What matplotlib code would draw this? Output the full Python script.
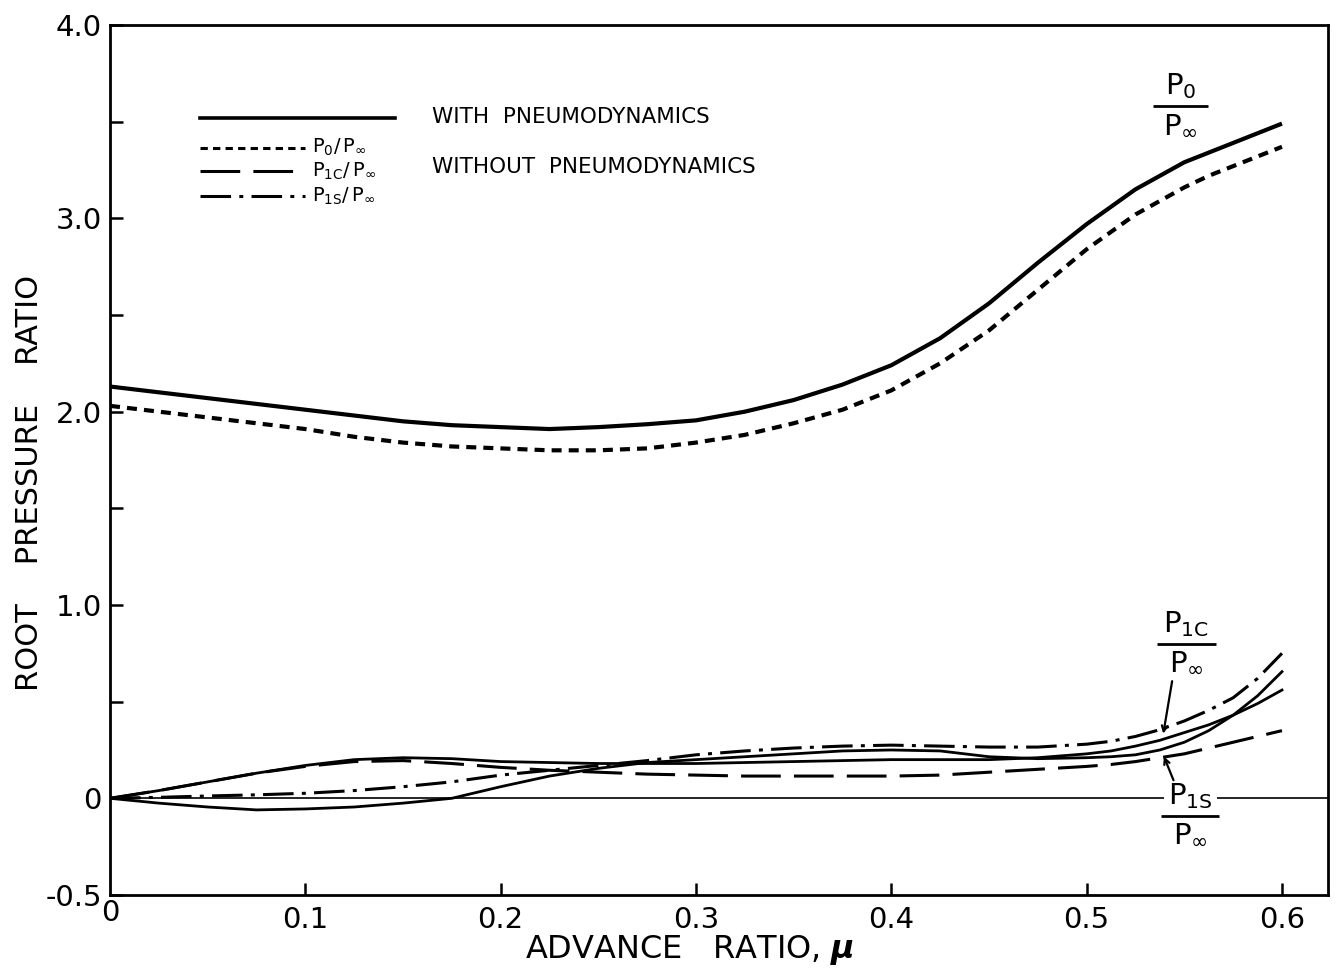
import matplotlib
matplotlib.use("Agg")
import matplotlib.pyplot as plt
from matplotlib.lines import Line2D

plt.rcParams['font.family'] = ['DejaVu Sans']
plt.rcParams['mathtext.fontset'] = 'dejavusans'

# Advance ratio grid (finer near the upper end where the curves bend sharply)
mu = [0.0, 0.025, 0.05, 0.075, 0.1, 0.125, 0.15, 0.175, 0.2, 0.225, 0.25, 0.275,
      0.3, 0.325, 0.35, 0.375, 0.4, 0.425, 0.45, 0.475, 0.5, 0.5125, 0.525, 0.5375,
      0.55, 0.5625, 0.575, 0.5875, 0.6]

# With pneumodynamics
p0_with = [2.13, 2.10, 2.07, 2.04, 2.01, 1.98, 1.95, 1.93, 1.92, 1.91, 1.92, 1.935,
           1.955, 2.00, 2.06, 2.14, 2.24, 2.38, 2.56, 2.77, 2.97, 3.06, 3.15, 3.22,
           3.29, 3.34, 3.39, 3.44, 3.49]
p1c_with = [0.0, 0.04, 0.085, 0.13, 0.17, 0.20, 0.21, 0.205, 0.19, 0.185, 0.18, 0.18,
            0.18, 0.185, 0.19, 0.195, 0.20, 0.20, 0.20, 0.21, 0.23, 0.245, 0.27, 0.30,
            0.34, 0.38, 0.43, 0.49, 0.56]
p1s_with = [0.0, -0.025, -0.045, -0.06, -0.055, -0.045, -0.025, 0.0, 0.06, 0.115, 0.155, 0.185,
            0.20, 0.215, 0.23, 0.245, 0.25, 0.245, 0.215, 0.205, 0.21, 0.215, 0.225, 0.25,
            0.29, 0.35, 0.43, 0.53, 0.655]

# Without pneumodynamics
p0_without = [2.03, 2.00, 1.97, 1.94, 1.91, 1.87, 1.84, 1.82, 1.81, 1.80, 1.80, 1.81,
              1.84, 1.88, 1.94, 2.01, 2.11, 2.25, 2.42, 2.63, 2.84, 2.93, 3.02, 3.09,
              3.16, 3.22, 3.27, 3.32, 3.37]
p1c_without = [0.0, 0.04, 0.085, 0.13, 0.165, 0.19, 0.195, 0.18, 0.16, 0.145, 0.135, 0.125,
               0.12, 0.115, 0.115, 0.115, 0.115, 0.12, 0.135, 0.15, 0.165, 0.175, 0.19, 0.21,
               0.23, 0.26, 0.29, 0.32, 0.35]
p1s_without = [0.0, 0.005, 0.012, 0.018, 0.026, 0.04, 0.06, 0.085, 0.12, 0.145, 0.17, 0.195,
               0.225, 0.245, 0.26, 0.27, 0.275, 0.27, 0.265, 0.265, 0.28, 0.295, 0.32, 0.355,
               0.40, 0.455, 0.52, 0.62, 0.75]

x_ticks = [0.1, 0.2, 0.3, 0.4, 0.5, 0.6]
x_ticklabels = ["0.1", "0.2", "0.3", "0.4", "0.5", "0.6"]
y_ticks = [-0.5, 0.0, 0.5, 1.0, 1.5, 2.0, 2.5, 3.0, 3.5, 4.0]
y_ticklabels = ["-0.5", "0", "", "1.0", "", "2.0", "", "3.0", "", "4.0"]

fig = plt.figure(figsize=(13.4, 9.73), dpi=100)
ax = fig.add_axes([0.0821, 0.0802, 0.9090, 0.8941])
ax.set_xlim(0, 0.6236)
ax.set_ylim(-0.5, 4.0)

short_dash = (2.4, 1.7)
long_dash = (13, 4.3)
dash_dot = (10, 2.7, 1.3, 2.7)

# reference line at zero
ax.axhline(0.0, color='black', lw=1.2, zorder=1)

ax.plot(mu, p0_with, color='black', lw=3.0, solid_capstyle='butt', solid_joinstyle='round')
ax.plot(mu, p0_without, color='black', lw=3.0, dashes=short_dash)
ax.plot(mu, p1c_with, color='black', lw=2.0, solid_joinstyle='round')
ax.plot(mu, p1s_with, color='black', lw=2.0, solid_joinstyle='round')
ax.plot(mu, p1c_without, color='black', lw=2.2, dashes=long_dash)
ax.plot(mu, p1s_without, color='black', lw=2.2, dashes=dash_dot)

# axes styling
for sp in ax.spines.values():
    sp.set_linewidth(2.0)
ax.set_xticks(x_ticks)
ax.set_xticklabels(x_ticklabels)
ax.set_yticks(y_ticks)
ax.set_yticklabels(y_ticklabels)
ax.tick_params(direction='in', length=9, width=1.8, labelsize=21)
ax.tick_params(axis='x', pad=8)
ax.tick_params(axis='y', pad=6)
ax.text(0.0, -0.52, "0", ha='center', va='top', fontsize=21,
        transform=ax.transData)
ax.set_xlabel(r"ADVANCE   RATIO, $\boldsymbol{\mu}$", fontsize=23, va='center')
ax.xaxis.set_label_coords(0.476, -0.063)
ax.set_ylabel("ROOT    PRESSURE    RATIO", fontsize=22, va='center')
ax.yaxis.set_label_coords(-0.066, 0.474)

# key
tr = ax.transAxes
ax.add_line(Line2D([0.074, 0.234], [0.893, 0.893], transform=tr, color='black', lw=2.6))
ax.add_line(Line2D([0.074, 0.160], [0.859, 0.859], transform=tr, color='black', lw=2.2, dashes=short_dash))
ax.add_line(Line2D([0.074, 0.160], [0.832, 0.832], transform=tr, color='black', lw=2.2, dashes=long_dash))
ax.add_line(Line2D([0.074, 0.160], [0.803, 0.803], transform=tr, color='black', lw=2.2, dashes=dash_dot))
ax.text(0.264, 0.894, "WITH  PNEUMODYNAMICS", transform=tr, fontsize=15.5, va='center')
ax.text(0.264, 0.837, "WITHOUT  PNEUMODYNAMICS", transform=tr, fontsize=15.5, va='center')
ax.text(0.166, 0.859, r"$\mathregular{P_0/\,P_\infty}$", transform=tr, fontsize=14, va='center')
ax.text(0.166, 0.832, r"$\mathregular{P_{1C}/\,P_\infty}$", transform=tr, fontsize=14, va='center')
ax.text(0.166, 0.803, r"$\mathregular{P_{1S}/\,P_\infty}$", transform=tr, fontsize=14, va='center')


def fraction(x, y, top, half_width=0.014, fs=21, gap=0.025, bg=False):
    bbox = dict(facecolor='white', edgecolor='none', pad=3) if bg else None
    ax.text(x, y + gap, top, va='bottom', ha='center', fontsize=fs, bbox=bbox, zorder=2)
    ax.text(x, y - gap, r"$\mathregular{P_\infty}$", va='top', ha='center', fontsize=fs)
    ax.plot([x - half_width, x + half_width], [y, y], color='black', lw=2.0,
            solid_capstyle='butt', zorder=3)


fraction(0.548, 3.58, r"$\mathregular{P_0}$")
fraction(0.551, 0.80, r"$\mathregular{P_{1C}}$", half_width=0.015)
# the white box breaks the zero line around the lower label
fraction(0.553, -0.09, r"$\mathregular{P_{1S}}$", half_width=0.015, bg=True)

ax.annotate("", xy=(0.539, 0.32), xytext=(0.544, 0.62),
            arrowprops=dict(arrowstyle='->', color='black', lw=1.6))
ax.annotate("", xy=(0.539, 0.23), xytext=(0.545, 0.08),
            arrowprops=dict(arrowstyle='->', color='black', lw=1.6))

fig.savefig("out.png", dpi=100, facecolor='white')
